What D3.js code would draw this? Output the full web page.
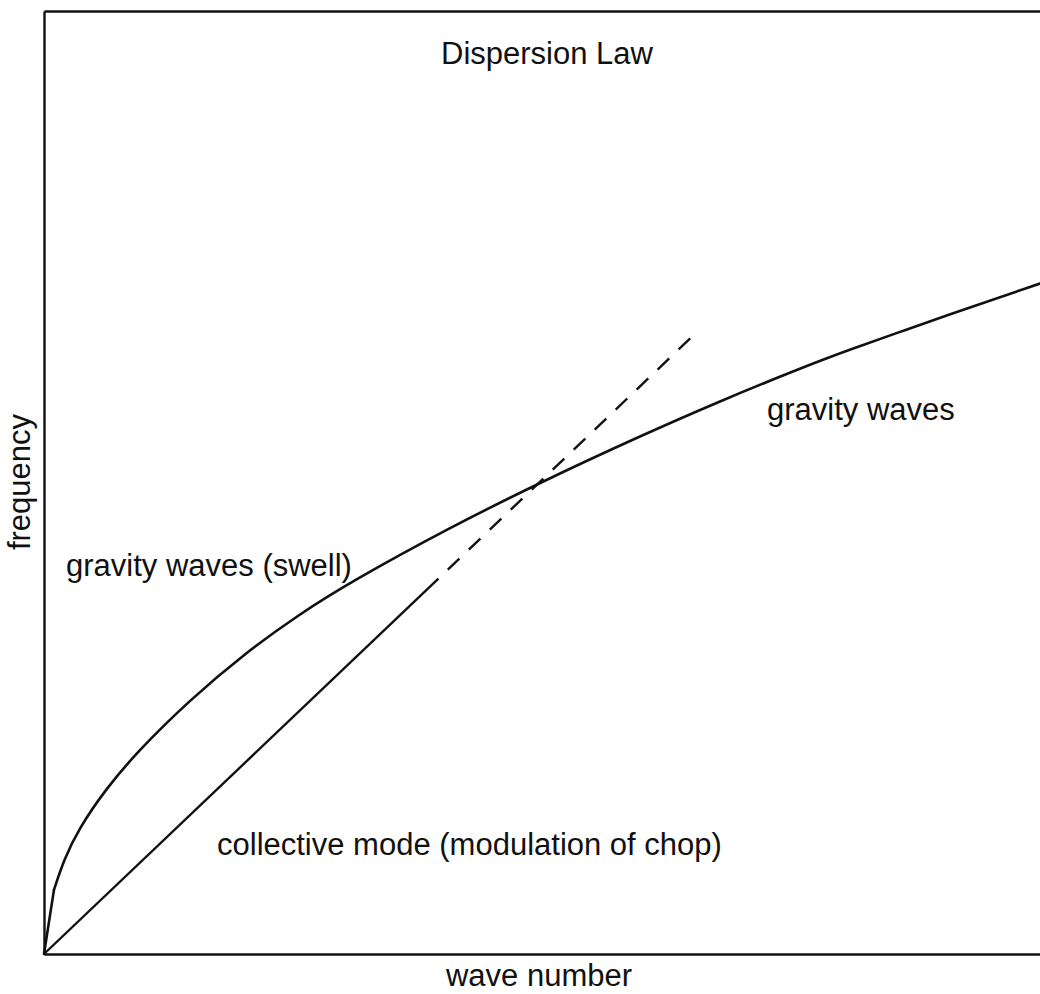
<!DOCTYPE html>
<html>
<head>
<meta charset="utf-8">
<script src="https://cdn.jsdelivr.net/npm/d3@7"></script>
<style>
  body { margin: 0; background: #fff; }
  text { font-family: "Liberation Sans", Arial, Helvetica, sans-serif; fill: #111; }
</style>
</head>
<body>
<div id="chart"></div>
<script>
// wave number (x) and frequency (y), both in [0, 1]
var swellK = [0, 0.010, 0.020, 0.035, 0.062, 0.095, 0.146, 0.203, 0.256, 0.307, 0.407, 0.500, 0.598, 0.678, 0.759, 0.809, 0.859, 0.899, 1.000];
var swellW = [0, 0.068, 0.100, 0.133, 0.175, 0.216, 0.269, 0.320, 0.360, 0.394, 0.452, 0.501, 0.549, 0.586, 0.621, 0.641, 0.6595, 0.6745, 0.711];

// collective mode: solid part, then dashed continuation
var modeK = [0, 0.396];
var modeW = [0, 0.398];
var dashK = [0.396, 0.651];
var dashW = [0.398, 0.655];

var titleText = "Dispersion Law";
var xLabel = "wave number";
var yLabel = "frequency";
var curveLabels = ["gravity waves", "gravity waves (swell)", "collective mode (modulation of chop)"];

// svg area
var svgWidth = 1040;
var svgHeight = 994;

var chartMargin = {
    top: 11,
    right: 0,
    bottom: 40,
    left: 44
};

var chartWidth = svgWidth - chartMargin.left - chartMargin.right;
var chartHeight = svgHeight - chartMargin.top - chartMargin.bottom;

var svg = d3.select("#chart")
    .append("svg")
    .attr("width", svgWidth)
    .attr("height", svgHeight);

var chartGroup = svg.append("g")
    .attr("transform", `translate(${chartMargin.left}, ${chartMargin.top})`);

var xLinearScale = d3.scaleLinear().domain([0, 1]).range([0, chartWidth]);
var yLinearScale = d3.scaleLinear().domain([0, 1]).range([chartHeight, 0]);

// frame: axes with no ticks
var bottomAxis = d3.axisBottom(xLinearScale).tickValues([]).tickSizeOuter(0);
var leftAxis = d3.axisLeft(yLinearScale).tickValues([]).tickSizeOuter(0);
var topAxis = d3.axisTop(xLinearScale).tickValues([]).tickSizeOuter(0);

chartGroup.append("g")
    .attr("transform", `translate(0, ${chartHeight})`)
    .call(bottomAxis);
chartGroup.append("g").call(leftAxis);
chartGroup.append("g").call(topAxis);

chartGroup.selectAll(".domain")
    .attr("stroke", "#111")
    .attr("stroke-width", 2.4);

function toPoints(ks, ws) {
    return ks.map((k, i) => [k, ws[i]]);
}

var line = d3.line()
    .x(d => xLinearScale(d[0]))
    .y(d => yLinearScale(d[1]));

// the plotted curve has a straight first step from the origin, smooth after it
var swellPts = toPoints(swellK, swellW);
var smoothLine = d3.line()
    .x(d => xLinearScale(d[0]))
    .y(d => yLinearScale(d[1]))
    .curve(d3.curveBasis);

chartGroup.append("path")
    .datum(swellPts.slice(0, 2))
    .attr("d", line)
    .attr("fill", "none")
    .attr("stroke", "#111")
    .attr("stroke-width", 2.6)
    .attr("stroke-linecap", "round");

chartGroup.append("path")
    .datum(swellPts.slice(1))
    .attr("d", smoothLine)
    .attr("fill", "none")
    .attr("stroke", "#111")
    .attr("stroke-width", 2.6)
    .attr("stroke-linecap", "round");

chartGroup.append("path")
    .datum(toPoints(modeK, modeW))
    .attr("d", line)
    .attr("fill", "none")
    .attr("stroke", "#111")
    .attr("stroke-width", 2.4);

// dashes start with a gap after the solid part
chartGroup.append("path")
    .datum(toPoints(dashK, dashW))
    .attr("d", line)
    .attr("fill", "none")
    .attr("stroke", "#111")
    .attr("stroke-width", 2.4)
    .attr("stroke-dasharray", "16,13")
    .attr("stroke-dashoffset", 16);

// text
var fontSize = 31;

svg.append("text")
    .attr("x", 547)
    .attr("y", 64)
    .attr("text-anchor", "middle")
    .attr("font-size", fontSize)
    .text(titleText);

svg.append("text")
    .attr("x", 539)
    .attr("y", 986)
    .attr("text-anchor", "middle")
    .attr("font-size", fontSize)
    .text(xLabel);

svg.append("text")
    .attr("transform", "translate(30, 482) rotate(-90)")
    .attr("text-anchor", "middle")
    .attr("font-size", fontSize)
    .text(yLabel);

svg.append("text")
    .attr("x", 767)
    .attr("y", 420)
    .attr("font-size", fontSize)
    .text(curveLabels[0]);

svg.append("text")
    .attr("x", 66)
    .attr("y", 576)
    .attr("font-size", fontSize)
    .text(curveLabels[1]);

svg.append("text")
    .attr("x", 217)
    .attr("y", 855)
    .attr("font-size", fontSize)
    .text(curveLabels[2]);
</script>
</body>
</html>
